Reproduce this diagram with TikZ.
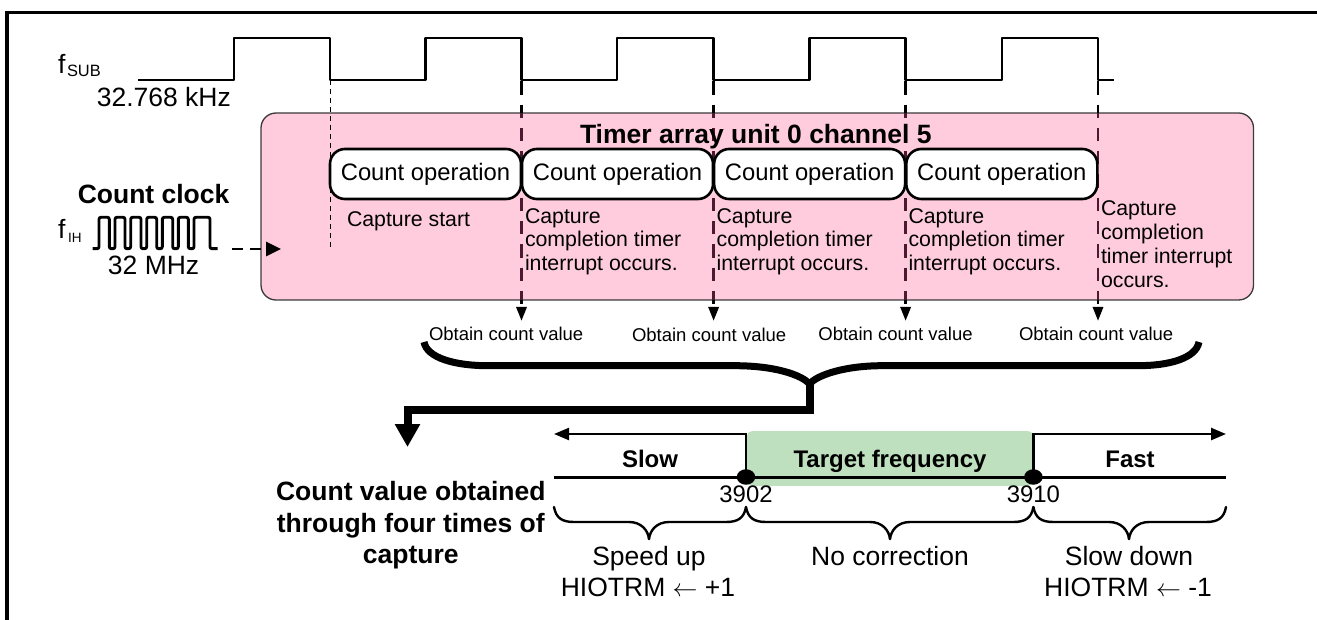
\documentclass[tikz,border=0pt]{standalone}
\usepackage{fontspec}
\setmainfont{Liberation Sans}
\usetikzlibrary{arrows.meta,shapes.geometric}
\newcommand{\fsz}[2]{\fontsize{#1}{#2}\selectfont}
\definecolor{pinkfill}{HTML}{FFCCDD}
\definecolor{pinkedge}{HTML}{3A3A3A}
\definecolor{greenfill}{HTML}{BFE0BF}
\definecolor{maroon}{HTML}{4A1A30}
\tikzset{
  x=1pt,y=-1pt,
  lbl/.style={inner sep=0pt,outer sep=0pt,anchor=base},
  lblw/.style={inner sep=0pt,outer sep=0pt,anchor=base west},
  big/.style={font=\fsz{26.5}{31}},
  bigb/.style={font=\fsz{26.5}{31}\bfseries},
  midb/.style={font=\fsz{24}{28}\bfseries},
  sub/.style={font=\fsz{16.4}{18}},
  small/.style={font=\fsz{18.5}{22}},
  capt/.style={inner sep=0pt,outer sep=0pt,anchor=north west,align=left,font=\fsz{21.3}{23.8}},
  wave/.style={line width=2.9pt,line join=round},
  countbox/.style={draw=black,fill=white,line width=2.6pt,rounded corners=15pt,minimum height=50pt,inner sep=0pt,font=\fsz{23.8}{28}},
  dashline/.style={line width=2.9pt,dash pattern=on 13.3pt off 10pt},
  capturearrow/.style={dashline,-{Triangle[length=14pt,width=10pt]}},
  thinbrace/.style={line width=2.4pt,line cap=round},
  thickbrace/.style={line width=7pt},
  timeline/.style={line width=3pt},
  dot/.style={ellipse,fill=black,minimum width=18.5pt,minimum height=15.5pt,inner sep=0pt,outer sep=0pt},
}
\begin{document}
\begin{tikzpicture}
\useasboundingbox (0,0) rectangle (1317,620);
% frame
\draw[line width=3.3pt] (7,620) -- (7,12.5) -- (1317,12.5);

% f_SUB waveform
\coordinate (w0) at (330,80);
\coordinate (c1) at (521.5,58);
\coordinate (c2) at (713.6,58);
\coordinate (c3) at (905.6,58);
\coordinate (c4) at (1098,58);
\coordinate (t1) at (521.5,321);
\coordinate (t2) at (713.6,321);
\coordinate (t3) at (905.6,321);
\coordinate (t4) at (1098,321);
\coordinate (s1) at (330,250);

% pink box
\node[name=unit,draw=pinkedge,fill=pinkfill,line width=1.3pt,rounded corners=15pt,inner sep=0pt,minimum width=992.5pt,minimum height=187pt] at (757.25,206.5) {};

% capture start marker
\draw[line width=1pt,dash pattern=on 5pt off 4pt] (w0) -- (s1);

% dashed capture arrows, black outside the unit, maroon inside
\foreach \a/\b in {c1/t1,c2/t2,c3/t3,c4/t4}{
  \draw[capturearrow] (\a) -- (\b);
}
\begin{scope}
  \clip[rounded corners=15pt] (261,113) rectangle (1253.5,300);
  \foreach \a/\b in {c1/t1,c2/t2,c3/t3,c4/t4}{
    \draw[dashline,draw=maroon,shorten >=14pt] (\a) -- (\b);
  }
\end{scope}

\draw[wave] (138,80) -- (234,80) -- (234,38) -- (330,38) -- (330,80) -- (425.5,80) -- (425.5,38)
  -- (521.5,38) -- (521.5,80) -- (617,80) -- (617,38) -- (713.6,38) -- (713.6,80) -- (809.6,80)
  -- (809.6,38) -- (905.6,38) -- (905.6,80) -- (1002,80) -- (1002,38) -- (1098,38) -- (1098,80) -- (1114,80);

% count boxes
\node[countbox,name=cb1,minimum width=191pt] at (425.5,174) {Count operation};
\node[countbox,name=cb2,minimum width=191pt] at (617.5,174) {Count operation};
\node[countbox,name=cb3,minimum width=191pt] at (809.6,174) {Count operation};
\node[countbox,name=cb4,minimum width=191pt] at (1001.8,174) {Count operation};

% left labels
\node[lblw,big,name=fsub] at (58,74) {f};
\node[lblw,sub,name=fsubs] at (67,77) {SUB};
\node[lblw,big,name=fsubv] at (96.8,106.7) {32.768 kHz};
\node[lbl,bigb,name=cclock] at (153.6,204) {Count clock};
\node[lblw,big,name=fih] at (58,239) {f};
\node[lblw,font=\fsz{13.5}{16},name=fihs] at (68,242.7) {IH};
\node[lbl,big,name=fihv] at (153.6,275) {32 MHz};

% clock
\draw[line width=2.9pt,rounded corners=2pt] (92.7,248.7) -- (99,248.7) -- (99,217.3) -- (109.3,217.3)
  -- (109.3,248.7) -- (115,248.7) -- (115,217.3) -- (125,217.3)
  -- (125,248.7) -- (130.7,248.7) -- (130.7,217.3) -- (141,217.3)
  -- (141,248.7) -- (146.7,248.7) -- (146.7,217.3) -- (156.7,217.3)
  -- (156.7,248.7) -- (162.3,248.7) -- (162.3,217.3) -- (172.7,217.3)
  -- (172.7,248.7) -- (178.3,248.7) -- (178.3,217.3) -- (188.3,217.3)
  -- (188.3,248.7) -- (194,248.7) -- (194,217.3) -- (210,217.3)
  -- (210,248.7) -- (217.5,248.7);
\coordinate (ckfrom) at (232,249);
\coordinate (ckto) at (281,249);
\draw[line width=2.6pt,dash pattern=on 11pt off 7pt,-{Triangle[length=15pt,width=14pt]}] (ckfrom) -- (ckto);

% unit labels
\node[lblw,font=\fsz{26.5}{31}\bfseries,name=unitt] at (580,143.3) {Timer array unit 0 channel 5};
\node[lblw,font=\fsz{21.3}{24},name=cs] at (347,226.7) {Capture start};
\node[capt,name=cap1] at (525,208.3) {Capture\\completion timer\\interrupt occurs.};
\node[capt,name=cap2] at (716.6,208.3) {Capture\\completion timer\\interrupt occurs.};
\node[capt,name=cap3] at (908.5,208.3) {Capture\\completion timer\\interrupt occurs.};
\node[capt,name=cap4] at (1101,201) {Capture\\completion\\timer interrupt\\occurs.};

% obtain labels
\node[lblw,small,name=ob1] at (429,340) {Obtain count value};
\node[lblw,small,name=ob2] at (632,341.7) {Obtain count value};
\node[lblw,small,name=ob3] at (818.4,340) {Obtain count value};
\node[lblw,small,name=ob4] at (1019,341) {Obtain count value};

% thick brace with arrow
\coordinate (tip) at (809.5,384);
\coordinate (corner) at (809.5,410);
\coordinate (down) at (407.5,410);
\coordinate (dest) at (407.5,447);
\draw[thickbrace] (424,342) .. controls (427,358) and (455,365.7) .. (488,365.7) -- (735,365.7)
   .. controls (775,365.7) and (802,375) .. (tip);
\draw[thickbrace] (1199,342) .. controls (1196,358) and (1170,365.7) .. (1138,365.7) -- (882,365.7)
   .. controls (845,365.7) and (817,375) .. (tip);
\draw[line width=8pt,line join=miter,-{Triangle[length=23pt,width=24pt]}] (tip) -- (corner) -- (down) -- (dest);

% frequency scale
\node[name=target,fill=greenfill,rounded corners=5pt,inner sep=0pt,minimum width=286pt,minimum height=54.7pt] at (890,458.4) {};
\coordinate (ll) at (746,434);
\coordinate (lb) at (746,477);
\coordinate (rr) at (1033.4,434);
\coordinate (rb) at (1033.4,477);
\coordinate (larrow) at (554,434);
\coordinate (rarrow) at (1226,434);
\coordinate (lline) at (554,477);
\coordinate (rline) at (1226,477);
\draw[line width=2.4pt,-{Triangle[length=15pt,width=12pt]}] (lb) -- (ll) -- (larrow);
\draw[line width=2.4pt,-{Triangle[length=15pt,width=12pt]}] (rb) -- (rr) -- (rarrow);
\draw[timeline] (lline) -- (rline);
\node[dot,name=d1] at (lb) {};
\node[dot,name=d2] at (rb) {};
\node[lbl,midb,name=slow] at (650,467.3) {Slow};
\node[lbl,midb,name=tf] at (890,467.3) {Target frequency};
\node[lbl,midb,name=fast] at (1130,467.3) {Fast};
\node[lbl,font=\fsz{23.9}{28},name=v1] at (746,502.7) {3902};
\node[lbl,font=\fsz{23.9}{28},name=v2] at (1033.4,502.7) {3910};

% thin braces
\foreach \l/\m/\r in {554/649/746,746/890/1033.4,1033.4/1129/1226}{
  \draw[thinbrace] (\l,507) .. controls (\l+2,518) and (\l+8,522) .. (\l+20,522) -- (\m-20,522)
     .. controls (\m-8,522) and (\m-1,530) .. (\m,539);
  \draw[thinbrace] (\r,507) .. controls (\r-2,518) and (\r-8,522) .. (\r-20,522) -- (\m+20,522)
     .. controls (\m+8,522) and (\m+1,530) .. (\m,539);
}

% bottom labels
\node[lbl,bigb,name=cv1] at (410.8,500.7) {Count value obtained};
\node[lbl,bigb,name=cv2] at (410.8,532.3) {through four times of};
\node[lbl,bigb,name=cv3] at (410.8,563.3) {capture};
\node[lbl,big,name=su] at (649,565) {Speed up};
\node[lbl,big,name=su2] at (648,596.7) {HIOTRM \(\leftarrow\) +1};
\node[lbl,big,name=nc] at (890,565) {No correction};
\node[lbl,big,name=sd] at (1129,565) {Slow down};
\node[lbl,big,name=sd2] at (1128,596.7) {HIOTRM \(\leftarrow\) -1};
\end{tikzpicture}
\end{document}
